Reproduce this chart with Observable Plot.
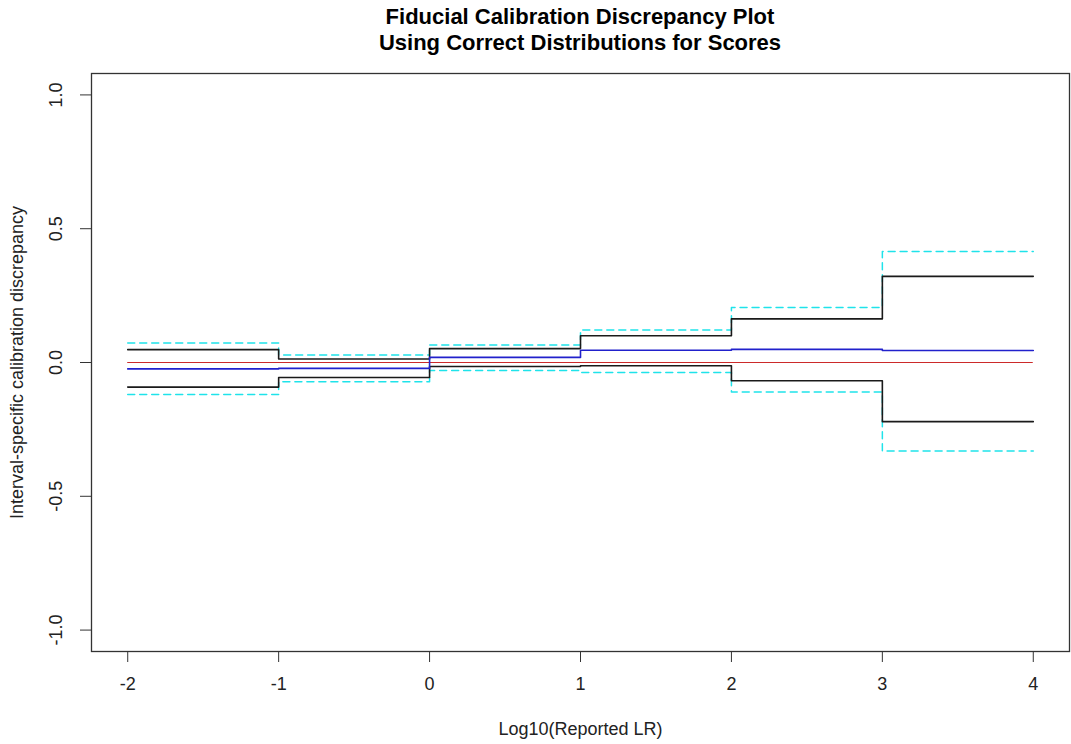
<!DOCTYPE html>
<html>
<head>
<meta charset="utf-8">
<script src="https://cdn.jsdelivr.net/npm/d3@7"></script>
<script src="https://cdn.jsdelivr.net/npm/@observablehq/plot@0.6"></script>
<style>
  html, body { margin: 0; padding: 0; background: #fff; }
  #wrap { width: 1071px; height: 744px; position: relative; font-family: "Liberation Sans", Arial, sans-serif; }
  #title { position: absolute; left: 91px; width: 978px; top: 4px; text-align: center;
           font-weight: bold; font-size: 22px; line-height: 26px; color: #000; }
  #chart { position: absolute; left: 0; top: 60px; }
</style>
</head>
<body>
<div id="wrap">
  <div id="title">Fiducial Calibration Discrepancy Plot<br>Using Correct Distributions for Scores</div>
  <div id="chart"></div>
</div>
<script>
// Interval boundaries on the log10(LR) axis
const bounds = [-2, -1, 0, 1, 2, 3, 4];
const xTicks = [-2, -1, 0, 1, 2, 3, 4];
const yTicks = [-1, -0.5, 0, 0.5, 1];

// Interval-specific discrepancy per interval [-2,-1], [-1,0], ..., [3,4]
const outerUpper = [0.073, 0.028, 0.065, 0.121, 0.206, 0.415];
const innerUpper = [0.048, 0.013, 0.052, 0.100, 0.163, 0.322];
const central    = [-0.024, -0.022, 0.019, 0.046, 0.049, 0.045];
const innerLower = [-0.092, -0.056, -0.015, -0.012, -0.068, -0.221];
const outerLower = [-0.120, -0.072, -0.030, -0.037, -0.110, -0.331];
const reference = 0;

// Step table: each interval value starts at its left boundary, the last one is held to x = 4
function steps(name, vals) {
  return bounds.map((b, i) => ({series: name, x: b, y: vals[Math.min(i, vals.length - 1)]}));
}
const outer = [...steps("outerUpper", outerUpper), ...steps("outerLower", outerLower)];
const inner = [...steps("innerUpper", innerUpper), ...steps("innerLower", innerLower)];
const mid = steps("central", central);

const fmt = d => d.toFixed(1);

const plot = Plot.plot({
  width: 1071,
  height: 684,
  marginLeft: 91,
  marginRight: 2,
  marginTop: 13,
  marginBottom: 93,
  style: {fontFamily: "'Liberation Sans', Arial, sans-serif", fontSize: "18px", color: "#222", background: "#fff"},
  x: {domain: [-2.24, 4.24]},
  y: {domain: [-1.08, 1.08]},
  marks: [
    Plot.ruleY([reference], {x1: -2, x2: 4, stroke: "#cc2a2a", strokeWidth: 1}),
    Plot.line(outer, {x: "x", y: "y", z: "series", curve: "step-after", stroke: "#1fe3ea", strokeWidth: 1.5, strokeDasharray: "7,5"}),
    Plot.line(inner, {x: "x", y: "y", z: "series", curve: "step-after", stroke: "#1a1a1a", strokeWidth: 1.6}),
    Plot.line(mid, {x: "x", y: "y", curve: "step-after", stroke: "#2121cc", strokeWidth: 1.6}),
    Plot.frame({stroke: "#333", strokeWidth: 1.3}),
    Plot.axisX({ticks: xTicks, tickSize: 11, tickPadding: 15, tickFormat: d => String(d), label: null, fontSize: 18, stroke: "#333"}),
    Plot.axisY({ticks: yTicks, tickSize: 11, tickPadding: 24, tickRotate: -90, textAnchor: "middle", lineAnchor: "middle", tickFormat: fmt, label: null, fontSize: 18, stroke: "#333"}),
    Plot.text(["Log10(Reported LR)"], {frameAnchor: "bottom", dy: 78, lineAnchor: "middle", textAnchor: "middle", fontSize: 18, fill: "#222"}),
    Plot.text(["Interval-specific calibration discrepancy"], {frameAnchor: "left", dx: -74, rotate: -90, lineAnchor: "middle", textAnchor: "middle", fontSize: 18, fill: "#222"})
  ]
});
document.getElementById("chart").appendChild(plot);
</script>
</body>
</html>
